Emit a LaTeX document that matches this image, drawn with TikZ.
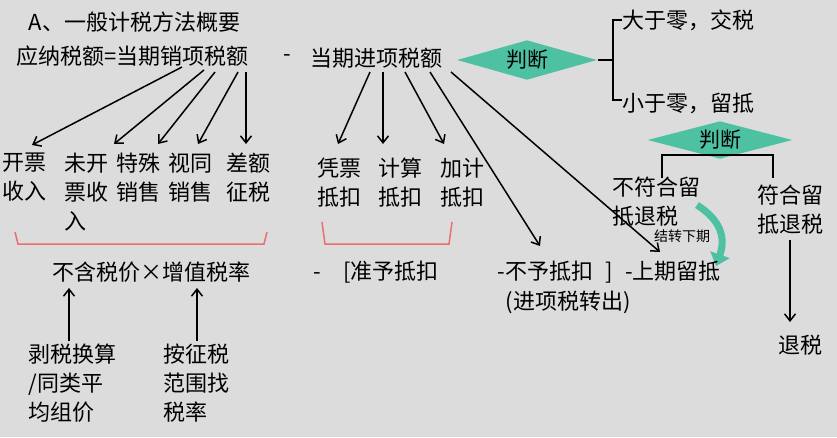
\documentclass[tikz,border=0pt]{standalone}
\usepackage{fontspec}
\setmainfont{Noto Sans CJK SC}
\usetikzlibrary{arrows,arrows.meta,shapes.geometric}
\definecolor{bg}{HTML}{DCDCDC}
\definecolor{judge}{HTML}{4DC1A1}
\definecolor{brace}{HTML}{E87070}
\tikzset{txt/.style={inner sep=0pt,font=\fontsize{22}{29}\selectfont,align=left}}
\tikzset{judgebox/.style={diamond,fill=judge,aspect=3.6,inner sep=1pt,
                          minimum width=140pt,minimum height=40pt,
                          font=\fontsize{21}{22}\selectfont}}
\begin{document}
\begin{tikzpicture}[x=1pt,y=-1pt,>={Straight Barb[length=7pt,width=11pt]},line width=1.5pt]
  \fill[bg] (0,0) rectangle (837,437);
  \useasboundingbox (0,0) rectangle (837,437);

  % heading and formula
  \node (title) [txt,anchor=west] at (28,22) {A、一般计税方法概要};
  \node (sales) [txt,anchor=west] at (16,56) {应纳税额=当期销项税额};
  \node (minus) [txt] at (287,58) {-};
  \node (input) [txt,anchor=west] at (310,58) {当期进项税额};
  \node (judge1) [judgebox] at (527,60) {判断};

  % result branches
  \node (pos) [txt,anchor=west] at (622,20) {大于零，交税};
  \node (neg) [txt,anchor=west] at (622,103) {小于零，留抵};
  \draw (judge1.east) -- (613,60);
  \draw (622,20) -- (613,20) -- (613,100) -- (622,100);
  \node (judge2) [judgebox,minimum width=145pt,minimum height=38pt] at (720,140) {判断};
  \draw (662,178) -- (662,155) -- (773,155) -- (773,178);
  \node (nofit) [txt,anchor=west] at (612,202) {不符合留\\抵退税};
  \node (fit) [txt,anchor=west] at (757,210) {符合留\\抵退税};
  \node (refund) [txt] at (800,345) {退税};
  \draw[->] (790,240) -- (790,322);
  \coordinate (carry) at (716,266);
  \draw[judge,line width=7pt,-{Triangle[length=12pt,width=20pt]}]
    (697,205) .. controls (714,216) and (728,232) .. (carry);
  \node (carrytxt) [txt,font=\fontsize{14}{15}\selectfont] at (682,236) {结转下期};

  % output tax items
  \node (sale1) [txt,anchor=north west] at (2,152) {开票\\收入};
  \node (sale2) [txt,anchor=north west] at (64,152) {未开\\票收\\入};
  \node (sale3) [txt,anchor=north west] at (116,152) {特殊\\销售};
  \node (sale4) [txt,anchor=north west] at (168,152) {视同\\销售};
  \node (sale5) [txt,anchor=north west] at (226,152) {差额\\征税};
  \draw[->] (182,67) -- (32,145);
  \draw[->] (204,70) -- (114,144);
  \draw[->] (215,72) -- (158,144);
  \draw[->] (238,72) -- (198,144);
  \draw[->] (246,72) -- (246,144);
  \draw[brace] (15,232) -- (18,244) -- (264,244) -- (267,232);
  \node (base) [txt] at (151,272) {不含税价×增值税率};
  \node (conv) [txt,anchor=north west] at (28,343) {剥税换算\\/同类平\\均组价};
  \node (rate) [txt,anchor=north west] at (163,343) {按征税\\范围找\\税率};
  \draw[->] (69,341) -- (69,288);
  \draw[->] (197,341) -- (197,288);

  % input tax items
  \node (in1) [txt,anchor=north west] at (317,157) {凭票\\抵扣};
  \node (in2) [txt,anchor=north west] at (378,157) {计算\\抵扣};
  \node (in3) [txt,anchor=north west] at (440,157) {加计\\抵扣};
  \draw[->] (370,72) -- (338,144);
  \draw[->] (383,72) -- (383,144);
  \draw[->] (405,72) -- (444,144);
  \draw[->] (430,72) -- (540,246);
  \draw[->] (451,72) -- (660,252);
  \draw[brace] (322,222) -- (325,244) -- (449,244) -- (452,222);
  \node (allow) [txt,anchor=west] at (313,272) {-\quad [准予抵扣};
  \node (deny) [txt,anchor=west] at (497,272) {-不予抵扣\,\, ]\,\, -上期留抵};
  \node (transfer) [txt,anchor=west] at (505,302) {(进项税转出)};
\end{tikzpicture}
\end{document}
